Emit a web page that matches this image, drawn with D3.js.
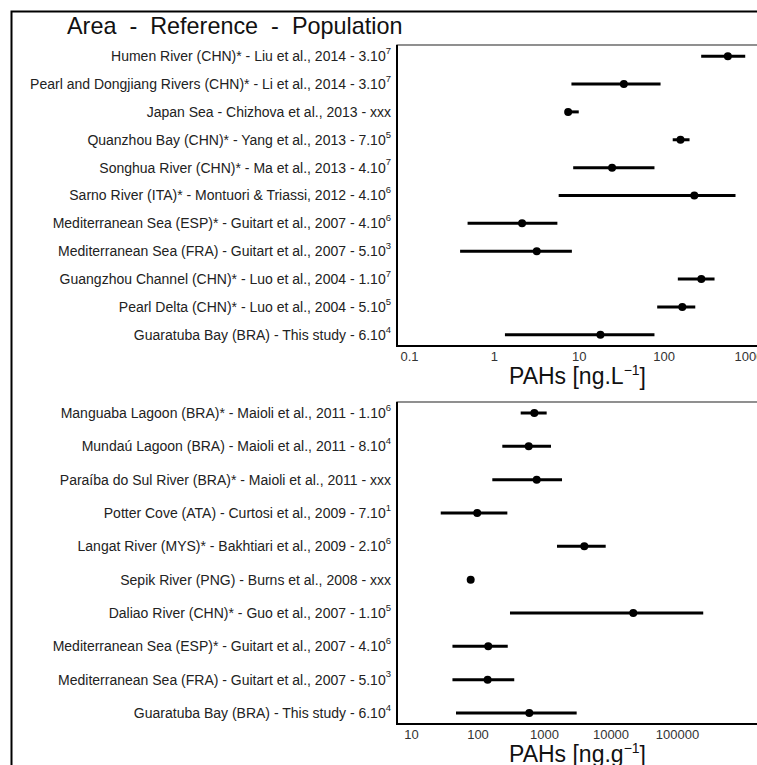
<!DOCTYPE html>
<html>
<head>
<meta charset="utf-8">
<script src="https://cdn.jsdelivr.net/npm/d3@7"></script>
<style>
  body { margin: 0; background: #fff; }
  text { font-family: "Liberation Sans", Arial, sans-serif; }
</style>
</head>
<body>
<div id="chart"></div>
<script>
// water column (ng/L)
var waterLabels = [
  "Humen River (CHN)* - Liu et al., 2014",
  "Pearl and Dongjiang Rivers (CHN)* - Li et al., 2014",
  "Japan Sea - Chizhova et al., 2013",
  "Quanzhou Bay (CHN)* - Yang et al., 2013",
  "Songhua River (CHN)* - Ma et al., 2013",
  "Sarno River (ITA)* - Montuori & Triassi, 2012",
  "Mediterranean Sea (ESP)* - Guitart et al., 2007",
  "Mediterranean Sea (FRA) - Guitart et al., 2007",
  "Guangzhou Channel (CHN)* - Luo et al., 2004",
  "Pearl Delta (CHN)* - Luo et al., 2004",
  "Guaratuba Bay (BRA) - This study"
];
var waterPop = ["3.10^7", "3.10^7", "xxx", "7.10^5", "4.10^7", "4.10^6", "4.10^6", "5.10^3", "1.10^7", "5.10^5", "6.10^4"];
var waterLow = [277, 8.2, 7.5, 128, 8.6, 5.8, 0.49, 0.4, 147, 84, 1.35];
var waterMid = [571, 34, 7.5, 158, 24.7, 230, 2.15, 3.2, 278, 166, 18];
var waterHigh = [915, 92, 10, 202, 78, 703, 5.6, 8.3, 398, 236, 78];
var waterTicks = [0.1, 1, 10, 100, 1000];

// sediments (ng/g)
var sedLabels = [
  "Manguaba Lagoon (BRA)* - Maioli et al., 2011",
  "Mundaú Lagoon (BRA) - Maioli et al., 2011",
  "Paraíba do Sul River (BRA)* - Maioli et al., 2011",
  "Potter Cove (ATA) - Curtosi et al., 2009",
  "Langat River (MYS)* - Bakhtiari et al., 2009",
  "Sepik River (PNG) - Burns et al., 2008",
  "Daliao River (CHN)* - Guo et al., 2007",
  "Mediterranean Sea (ESP)* - Guitart et al., 2007",
  "Mediterranean Sea (FRA) - Guitart et al., 2007",
  "Guaratuba Bay (BRA) - This study"
];
var sedPop = ["1.10^6", "8.10^4", "xxx", "7.10^1", "2.10^6", "xxx", "1.10^5", "4.10^6", "5.10^3", "6.10^4"];
var sedLow = [446, 236, 167, 28, 1568, 79, 308, 42, 42, 47.5];
var sedMid = [715, 589, 777, 99, 4036, 79, 22000, 145, 142, 601];
var sedHigh = [1097, 1274, 1866, 281, 8470, 79, 248000, 285, 357, 3100];
var sedTicks = [10, 100, 1000, 10000, 100000];

var W = 757, H = 765;
var svg = d3.select('#chart').append('svg')
    .attr('width', W)
    .attr('height', H)
    .style('display', 'block');

svg.append('rect').attr('width', W).attr('height', H).attr('fill', '#fff');

// outer frame (right / bottom sides fall outside the picture)
svg.append('rect')
    .attr('x', 11.5).attr('y', 11.5)
    .attr('width', 800).attr('height', 800)
    .attr('fill', 'none')
    .attr('stroke', '#000')
    .attr('stroke-width', 2);

svg.append('text')
    .attr('x', 67).attr('y', 34)
    .attr('font-size', 23.4)
    .attr('fill', '#111')
    .style('white-space', 'pre')
    .text('Area  -  Reference  -  Population');

function drawPanel(cfg) {
  var rows = cfg.labels.map(function(l, i) {
    return {label: l, pop: cfg.pop[i], low: cfg.low[i], mid: cfg.mid[i], high: cfg.high[i]};
  });

  var x = d3.scaleLog()
      .domain([cfg.ticks[0], cfg.ticks[cfg.ticks.length - 1]])
      .range(cfg.tickRange);

  var y = d3.scalePoint()
      .domain(cfg.labels)
      .range([cfg.top, cfg.bottom])
      .padding(cfg.pad);

  var g = svg.append('g');

  g.append('rect')
      .attr('x', cfg.left).attr('y', cfg.top)
      .attr('width', cfg.right - cfg.left).attr('height', cfg.bottom - cfg.top)
      .attr('fill', 'none')
      .attr('stroke', '#555')
      .attr('stroke-width', 1.3);

  // axis lines
  g.append('line')
      .attr('x1', cfg.left).attr('x2', cfg.left)
      .attr('y1', cfg.top).attr('y2', cfg.bottom + 1)
      .attr('stroke', '#000').attr('stroke-width', 2);
  g.append('line')
      .attr('x1', cfg.left).attr('x2', cfg.right)
      .attr('y1', cfg.bottom).attr('y2', cfg.bottom)
      .attr('stroke', '#000').attr('stroke-width', 2);

  var ax = g.append('g')
      .attr('transform', 'translate(0,' + (cfg.bottom + 1) + ')')
      .call(d3.axisBottom(x)
          .tickValues(cfg.ticks)
          .tickSize(0)
          .tickPadding(5)
          .tickFormat(function(d) { return String(d); }));
  ax.select('.domain').remove();
  ax.selectAll('text')
      .attr('font-size', 13)
      .attr('fill', '#333')
      .style('font-family', '"Liberation Sans", Arial, sans-serif');

  // row labels
  var lab = g.selectAll('text.row').data(rows).enter().append('text')
      .attr('class', 'row')
      .attr('x', 391)
      .attr('y', function(d) { return y(d.label); })
      .attr('dy', '0.35em')
      .attr('text-anchor', 'end')
      .attr('font-size', 14)
      .attr('fill', '#222');
  lab.each(function(d) {
    var t = d3.select(this);
    var parts = d.pop.split('^');
    t.append('tspan').text(d.label + ' - ' + parts[0]);
    if (parts.length > 1) {
      t.append('tspan')
          .attr('font-size', 9.5)
          .attr('dy', '-0.75em')
          .text(parts[1]);
    }
  });

  // ranges
  g.selectAll('line.rng').data(rows).enter().append('line')
      .attr('class', 'rng')
      .attr('x1', function(d) { return x(d.low); })
      .attr('x2', function(d) { return x(d.high); })
      .attr('y1', function(d) { return y(d.label); })
      .attr('y2', function(d) { return y(d.label); })
      .attr('stroke', '#000')
      .attr('stroke-width', 3);

  g.selectAll('circle.pt').data(rows).enter().append('circle')
      .attr('class', 'pt')
      .attr('cx', function(d) { return x(d.mid); })
      .attr('cy', function(d) { return y(d.label); })
      .attr('r', 4)
      .attr('fill', '#000');

  // axis title
  var title = g.append('text')
      .attr('x', (cfg.left + cfg.right) / 2)
      .attr('y', cfg.titleY)
      .attr('text-anchor', 'middle')
      .attr('font-size', 23)
      .attr('fill', '#111');
  title.append('tspan').text('PAHs [ng.' + cfg.unit);
  title.append('tspan').attr('font-size', 14).attr('dy', '-0.62em').text('\u22121');
  title.append('tspan').attr('dy', '0.42em').text(']');
}

drawPanel({
  labels: waterLabels, pop: waterPop, low: waterLow, mid: waterMid, high: waterHigh,
  ticks: waterTicks, tickRange: [409, 748.5],
  left: 397, right: 758, top: 45, bottom: 346, pad: 0.4,
  unit: 'L', titleY: 384
});

drawPanel({
  labels: sedLabels, pop: sedPop, low: sedLow, mid: sedMid, high: sedHigh,
  ticks: sedTicks, tickRange: [411, 677],
  left: 397, right: 758, top: 402, bottom: 724, pad: 0.33,
  unit: 'g', titleY: 762
});
</script>
</body>
</html>
